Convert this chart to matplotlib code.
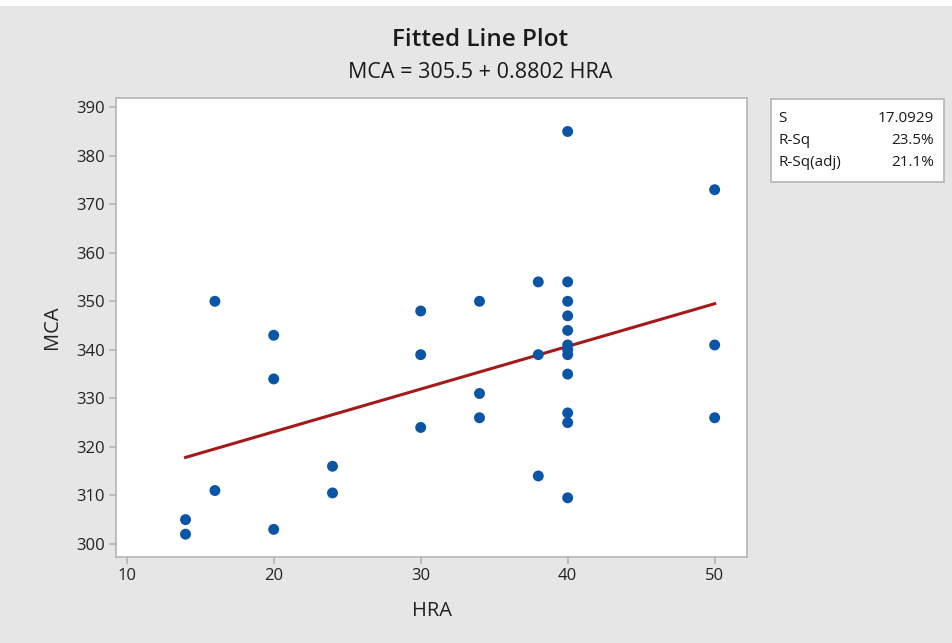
import matplotlib
matplotlib.use("Agg")
import matplotlib.pyplot as plt
from matplotlib.patches import Rectangle

plt.rcParams['font.family'] = ['Open Sans', 'DejaVu Sans']

hra = [14, 14, 16, 16, 20, 20, 20, 24, 24, 30, 30, 30, 34, 34, 34, 38, 38, 38,
       40, 40, 40, 40, 40, 40, 40, 40, 40, 40, 40, 40, 50, 50, 50]
mca = [305, 302, 350, 311, 343, 334, 303, 316, 310.5, 348, 339, 324, 350, 331, 326,
       354, 339, 314, 385, 354, 350, 347, 344, 341, 340, 339, 335, 327, 325, 309.5,
       373, 341, 326]

intercept = 305.5
slope = 0.8802
stats_labels = ["S", "R-Sq", "R-Sq(adj)"]
stats_values = ["17.0929", "23.5%", "21.1%"]

bg = "#e6e6e6"
W, H = 952, 643
fig = plt.figure(figsize=(W / 100, H / 100), dpi=100, facecolor=bg)
fig.patches.append(Rectangle((0, 1 - 6 / H), 1, 6 / H, transform=fig.transFigure,
                             facecolor="white", edgecolor="none", zorder=0))

ax = fig.add_axes([116 / W, 1 - 557 / H, (747 - 116) / W, (557 - 98) / H])
ax.set_facecolor("white")
ax.set_xlim(9.27, 52.2)
ax.set_ylim(297.3, 391.9)

xmin, xmax = min(hra), max(hra)
ax.plot([xmin, xmax], [intercept + slope * xmin, intercept + slope * xmax],
        color="#a31a1a", lw=2.2, zorder=2)
ax.scatter(hra, mca, s=62, color="#0b56a4", edgecolors="none", zorder=3)

ax.set_xticks([10, 20, 30, 40, 50])
ax.set_yticks(list(range(300, 391, 10)))
for s in ax.spines.values():
    s.set_color("#b4b4b4")
    s.set_linewidth(1.2)
ax.tick_params(direction="out", length=5, width=1.2, color="#b4b4b4",
               labelsize=12, labelcolor="#222222", pad=3)
ax.set_xlabel("HRA", fontsize=14.5, color="#222222", labelpad=12)
ax.set_ylabel("MCA", fontsize=14.5, color="#222222", labelpad=10)

fig.text(0.5045, 1 - 40 / H, "Fitted Line Plot", ha="center", va="center",
         fontsize=17.5, fontweight="semibold", color="#1a1a1a")
fig.text(0.5045, 1 - 72 / H, "MCA = 305.5 + 0.8802 HRA", ha="center", va="center",
         fontsize=15.5, color="#1a1a1a")

# stats box
bx0, by0, bx1, by1 = 771, 99, 944, 182
fig.patches.append(Rectangle((bx0 / W, 1 - by1 / H), (bx1 - bx0) / W, (by1 - by0) / H,
                             transform=fig.transFigure, facecolor="white",
                             edgecolor="#b4b4b4", lw=1.2))
for i, (lab, val) in enumerate(zip(stats_labels, stats_values)):
    yy = 1 - (118 + i * 22.5) / H
    fig.text(778 / W, yy, lab, ha="left", va="center", fontsize=11, color="#1a1a1a")
    fig.text(934 / W, yy, val, ha="right", va="center", fontsize=11, color="#1a1a1a")

fig.savefig("out.png", dpi=100, facecolor=bg)
